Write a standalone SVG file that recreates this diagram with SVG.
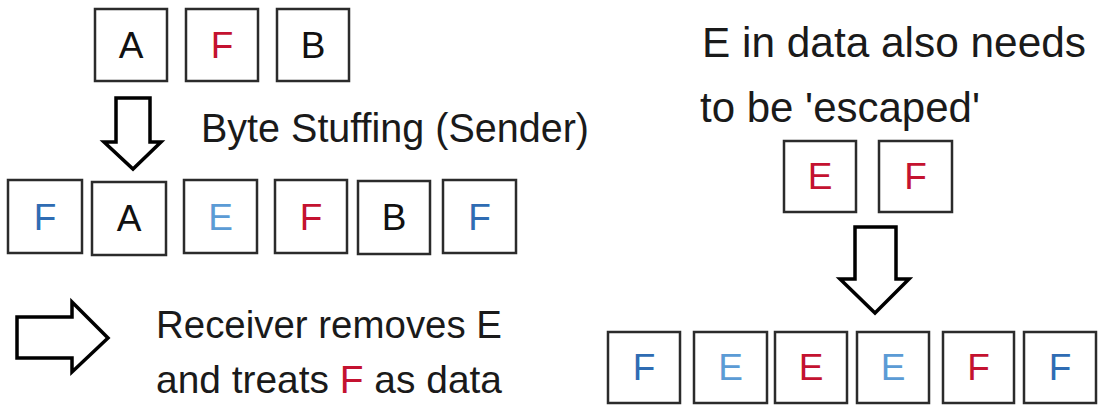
<svg xmlns="http://www.w3.org/2000/svg" width="1098" height="405" viewBox="0 0 1098 405">
<style>
  .box rect { fill: #ffffff; stroke: #2b2b2b; stroke-width: 2.5; }
  .box text { font-family: "Liberation Sans", "DejaVu Sans", sans-serif; font-size: 37px; text-anchor: middle; }
  .k { fill: #111111; }
  .r { fill: #c41230; }
  .b { fill: #2f6cb3; }
  .lb { fill: #5b9bd5; }
  .lbl { font-family: "Liberation Sans", "DejaVu Sans", sans-serif; fill: #1a1a1a; }
  .arrow { fill: #ffffff; stroke: #000000; stroke-width: 3.5; stroke-linejoin: miter; }
</style>
<rect width="1098" height="405" fill="#ffffff"/>

<!-- top row -->
<g id="top-A" class="box"><rect x="95" y="9" width="72" height="72"/><text x="131" y="58" class="k">A</text></g>
<g id="top-F" class="box"><rect x="186" y="9" width="72" height="72"/><text x="222" y="58" class="r">F</text></g>
<g id="top-B" class="box"><rect x="277" y="9" width="72" height="72"/><text x="313" y="58" class="k">B</text></g>

<!-- stuffed row -->
<g id="s1-F" class="box"><rect x="8" y="180" width="74" height="73"/><text x="45" y="230" class="b">F</text></g>
<g id="s2-A" class="box"><rect x="92" y="182" width="74" height="73"/><text x="129" y="231" class="k">A</text></g>
<g id="s3-E" class="box"><rect x="184" y="180" width="73" height="73"/><text x="220.5" y="230" class="lb">E</text></g>
<g id="s4-F" class="box"><rect x="275" y="180" width="72" height="73"/><text x="311" y="230" class="r">F</text></g>
<g id="s5-B" class="box"><rect x="358" y="181" width="72" height="73"/><text x="394" y="230" class="k">B</text></g>
<g id="s6-F" class="box"><rect x="443" y="180" width="73" height="73"/><text x="479.5" y="230" class="b">F</text></g>

<!-- right data E F -->
<g id="d-E" class="box"><rect x="784" y="141" width="72" height="71"/><text x="820" y="189" class="r">E</text></g>
<g id="d-F" class="box"><rect x="879" y="141" width="73" height="71"/><text x="915.5" y="189" class="r">F</text></g>

<!-- escaped row -->
<g id="e1-F" class="box"><rect x="608" y="332" width="72" height="71"/><text x="644" y="380" class="b">F</text></g>
<g id="e2-E" class="box"><rect x="694" y="332" width="73" height="71"/><text x="730.5" y="380" class="lb">E</text></g>
<g id="e3-E" class="box"><rect x="775" y="332" width="72" height="71"/><text x="811" y="380" class="r">E</text></g>
<g id="e4-E" class="box"><rect x="857" y="332" width="72" height="71"/><text x="893" y="380" class="lb">E</text></g>
<g id="e5-F" class="box"><rect x="943" y="332" width="71" height="71"/><text x="978.5" y="380" class="r">F</text></g>
<g id="e6-F" class="box"><rect x="1024" y="332" width="72" height="71"/><text x="1060" y="380" class="b">F</text></g>

<!-- block arrows -->
<g id="connectors">
  <polygon class="arrow" points="116,98 150,98 150,142 161,142 133,169 104,142 116,142"/>
  <polygon class="arrow" points="855,227 896,227 896,279 909,279 875,313 840,279 855,279"/>
  <polygon class="arrow" points="17,317 72,317 72,302 108,338 72,372 72,358 17,358"/>
</g>

<!-- labels -->
<g id="labels">
  <text class="lbl" x="201" y="142" font-size="40" textLength="388" lengthAdjust="spacingAndGlyphs">Byte Stuffing (Sender)</text>
  <text class="lbl" x="702" y="57" font-size="42" textLength="384" lengthAdjust="spacingAndGlyphs">E in data also needs</text>
  <text class="lbl" x="700" y="122" font-size="42" textLength="280" lengthAdjust="spacingAndGlyphs">to be 'escaped'</text>
  <text class="lbl" x="156" y="338" font-size="39" textLength="346" lengthAdjust="spacingAndGlyphs">Receiver removes E</text>
  <text class="lbl" x="156" y="393" font-size="39" textLength="346" lengthAdjust="spacingAndGlyphs">and treats <tspan class="r">F</tspan> as data</text>
</g>
</svg>
